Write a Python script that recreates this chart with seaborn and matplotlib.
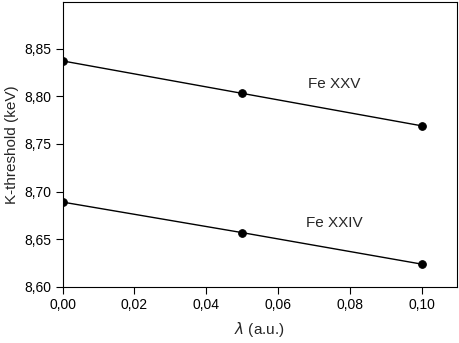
import numpy as np
import pandas as pd
import seaborn as sns
import matplotlib
matplotlib.use("Agg")
import matplotlib.pyplot as plt

# Data
lam = [0.00, 0.05, 0.10]
fe_xxv = [8.837, 8.803, 8.769]
fe_xxiv = [8.689, 8.657, 8.624]
x_ticks = [0.00, 0.02, 0.04, 0.06, 0.08, 0.10]
y_ticks = [8.60, 8.65, 8.70, 8.75, 8.80, 8.85]

df = pd.DataFrame({
    "lam": lam * 2,
    "K": fe_xxv + fe_xxiv,
    "ion": ["Fe XXV"] * 3 + ["Fe XXIV"] * 3,
})

sns.set_style("ticks")
plt.rcParams['font.family'] = ['Liberation Sans', 'DejaVu Sans']
plt.rcParams['mathtext.fontset'] = 'dejavusans'

fig = plt.figure(figsize=(4.6, 3.43), dpi=100)
ax = fig.add_axes([0.1363, 0.1633, 0.8565, 0.8309])

# one line per ion, black with round markers
sns.lineplot(data=df, x="lam", y="K", units="ion", estimator=None,
             color="black", linewidth=1.0, marker="o", markersize=5.5,
             markeredgecolor="black", ax=ax)

ax.text(0.0758, 8.8128, "Fe XXV", ha="center", va="center", fontsize=11)
ax.text(0.0758, 8.667, "Fe XXIV", ha="center", va="center", fontsize=11)

ax.set_xlim(0.0, 0.1098)
ax.set_ylim(8.60, 8.8988)
ax.set_xticks(x_ticks)
ax.set_xticklabels([f"{v:.2f}".replace(".", ",") for v in x_ticks])
ax.set_yticks(y_ticks)
ax.set_yticklabels([f"{v:.2f}".replace(".", ",") for v in y_ticks])
ax.tick_params(direction="out", length=5, width=0.8, pad=3, labelsize=10, colors="black")

ax.set_xlabel(r"$\it{\lambda}$ (a.u.)", fontsize=11, labelpad=6)
ax.set_ylabel("K-threshold (keV)", fontsize=11, labelpad=4)
for s in ax.spines.values():
    s.set_linewidth(0.8)
    s.set_color("black")

fig.savefig("out.png", dpi=100)
